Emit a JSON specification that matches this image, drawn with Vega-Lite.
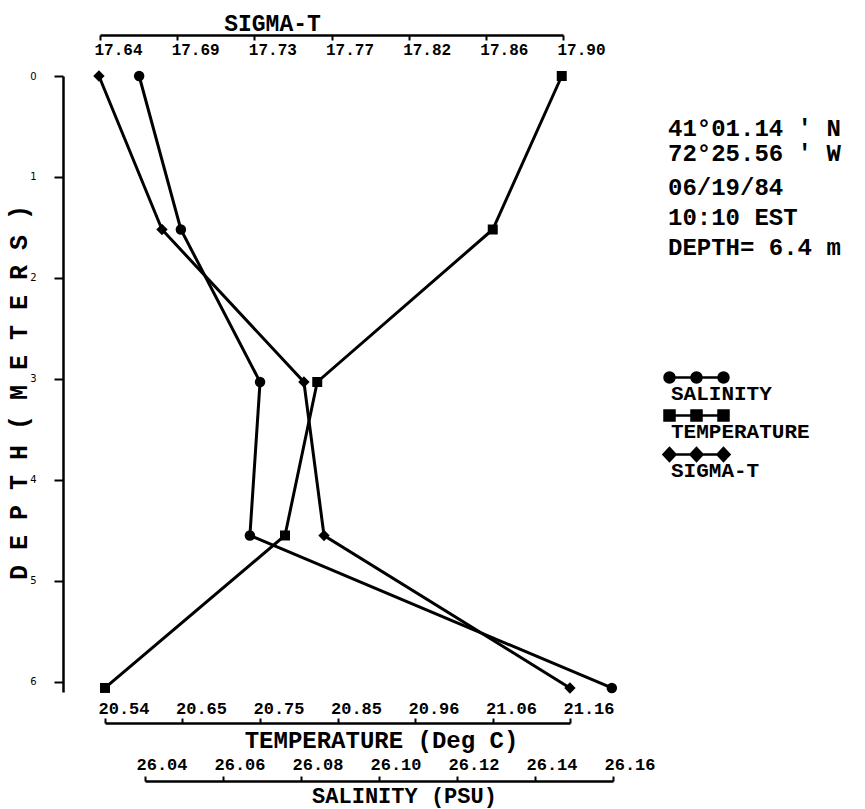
{
  "$schema": "https://vega.github.io/schema/vega-lite/v6.json",
  "width": 802,
  "height": 688,
  "autosize": {"type": "none"},
  "padding": {"left": 63, "top": 35, "right": 0, "bottom": 86},
  "background": "white",
  "config": {
    "view": {"stroke": null},
    "font": "Liberation Mono",
    "axis": {
      "grid": false,
      "domainColor": "black",
      "tickColor": "black",
      "labelColor": "black",
      "titleColor": "black",
      "domainWidth": 2.5,
      "tickWidth": 2,
      "labelFont": "Liberation Mono",
      "labelFontWeight": "bold",
      "titleFont": "Liberation Mono",
      "titleFontWeight": "bold",
      "labelFlush": false,
      "labelOverlap": false
    }
  },
  "title": {
    "text": ["41°01.14 ′ N", "72°25.56 ′ W"],
    "subtitle": ["06/19/84", "10:10 EST", "DEPTH= 6.4 m"],
    "orient": "top",
    "anchor": "start",
    "frame": "group",
    "offset": -248,
    "dx": 605,
    "fontSize": 24,
    "fontWeight": "bold",
    "lineHeight": 25,
    "font": "Liberation Mono",
    "color": "black",
    "subtitleFont": "Liberation Mono",
    "subtitleFontSize": 24,
    "subtitleFontWeight": "bold",
    "subtitleColor": "black",
    "subtitleLineHeight": 30,
    "subtitlePadding": 10
  },
  "data": {
    "values": [
      {"series": "SALINITY", "depth": 0, "value": 26.0385},
      {"series": "SALINITY", "depth": 1.52, "value": 26.0492},
      {"series": "SALINITY", "depth": 3.03, "value": 26.0695},
      {"series": "SALINITY", "depth": 4.55, "value": 26.0669},
      {"series": "SALINITY", "depth": 6.06, "value": 26.1597},
      {"series": "TEMPERATURE", "depth": 0, "value": 21.149},
      {"series": "TEMPERATURE", "depth": 1.52, "value": 21.057},
      {"series": "TEMPERATURE", "depth": 3.03, "value": 20.823},
      {"series": "TEMPERATURE", "depth": 4.55, "value": 20.78},
      {"series": "TEMPERATURE", "depth": 6.06, "value": 20.54},
      {"series": "SIGMA-T", "depth": 0, "value": 17.6394},
      {"series": "SIGMA-T", "depth": 1.52, "value": 17.6748},
      {"series": "SIGMA-T", "depth": 3.03, "value": 17.7545},
      {"series": "SIGMA-T", "depth": 4.55, "value": 17.7658},
      {"series": "SIGMA-T", "depth": 6.06, "value": 17.9039}
    ]
  },
  "encoding": {
    "y": {
      "field": "depth",
      "type": "quantitative",
      "scale": {"domain": [0, 6.1], "range": [41, 657], "nice": false, "zero": false},
      "axis": {
        "values": [0, 1, 2, 3, 4, 5, 6],
        "title": "D E P T H   ( M E T E R S )",
        "titleFontSize": 25,
        "titleX": -45,
        "titleY": 357,
        "titleAngle": -90,
        "titleAlign": "center",
        "titleBaseline": "middle",
        "labelFont": "DejaVu Sans",
        "labelFontWeight": "normal",
        "labelFontSize": 10,
        "labelPadding": 18,
        "tickSize": 9
      }
    }
  },
  "layer": [
    {
      "transform": [{"filter": "datum.series === 'SIGMA-T'"}],
      "encoding": {
        "x": {
          "field": "value",
          "type": "quantitative",
          "scale": {"domain": [17.64, 17.90], "range": [37, 500], "nice": false, "zero": false},
          "axis": {
            "orient": "top",
            "values": [17.64, 17.683333, 17.726667, 17.77, 17.813333, 17.856667, 17.90],
            "labelExpr": "['17.64','17.69','17.73','17.77','17.82','17.86','17.90'][round((datum.value-17.64)/0.0433333)]",
            "tickSize": -5,
            "labelPadding": -9,
            "labelBaseline": "middle",
            "labelAlign": "left",
            "labelOffset": -6,
            "labelFontSize": 16,
            "title": "SIGMA-T",
            "titleFontSize": 23,
            "titleX": 209,
            "titleY": -12,
            "titleAlign": "center",
            "titleBaseline": "middle"
          }
        }
      },
      "layer": [
        {
          "mark": {"type": "line", "strokeWidth": 3},
          "encoding": {
            "order": {"field": "depth"},
            "color": {
              "field": "series",
              "type": "nominal",
              "scale": {"domain": ["SALINITY", "TEMPERATURE", "SIGMA-T"], "range": ["black", "black", "black"]},
              "legend": {
                "title": null,
                "orient": "none",
                "legendX": 605,
                "legendY": 347,
                "direction": "vertical",
                "labelFont": "Liberation Mono",
                "labelFontSize": 21,
                "labelFontWeight": "bold",
                "labelColor": "black",
                "symbolSize": 400,
                "labelOffset": -20,
                "rowPadding": 1,
                "symbolStrokeWidth": 2.5,
                "symbolStrokeColor": "black",
                "symbolFillColor": "black",
                "symbolType": {"expr": "datum.value === 'SALINITY' ? 'M-1,-1.6L4.4,-1.6M-1.5,-1.6a0.5,0.5 0 1,0 1,0a0.5,0.5 0 1,0 -1,0ZM1.2,-1.6a0.5,0.5 0 1,0 1,0a0.5,0.5 0 1,0 -1,0ZM3.9,-1.6a0.5,0.5 0 1,0 1,0a0.5,0.5 0 1,0 -1,0Z' : datum.value === 'TEMPERATURE' ? 'M-1,-1.6L4.4,-1.6M-1.5,-2.1h1v1h-1ZM1.2,-2.1h1v1h-1ZM3.9,-2.1h1v1h-1Z' : 'M-1,-1.6L4.4,-1.6M-1,-2.25l0.6,0.65l-0.6,0.65l-0.6,-0.65ZM1.7,-2.25l0.6,0.65l-0.6,0.65l-0.6,-0.65ZM4.4,-2.25l0.6,0.65l-0.6,0.65l-0.6,-0.65Z'"}
              }
            }
          }
        },
        {"mark": {"type": "point", "shape": "diamond", "filled": true, "color": "black", "size": 130, "opacity": 1}}
      ]
    },
    {
      "transform": [{"filter": "datum.series === 'TEMPERATURE'"}],
      "encoding": {
        "x": {
          "field": "value",
          "type": "quantitative",
          "scale": {"domain": [20.54, 21.16], "range": [42, 507], "nice": false, "zero": false},
          "axis": {
            "orient": "bottom",
            "values": [20.54, 20.643333, 20.746667, 20.85, 20.953333, 21.056667, 21.16],
            "labelExpr": "['20.54','20.65','20.75','20.85','20.96','21.06','21.16'][round((datum.value-20.54)/0.1033333)]",
            "tickSize": -5,
            "labelPadding": -10,
            "labelBaseline": "middle",
            "labelAlign": "left",
            "labelOffset": -7,
            "labelFontSize": 17,
            "title": "TEMPERATURE (Deg C)",
            "titleFontSize": 24,
            "titleX": 318,
            "titleY": 17,
            "titleAlign": "center",
            "titleBaseline": "middle"
          }
        }
      },
      "layer": [
        {
          "mark": {"type": "line", "strokeWidth": 3},
          "encoding": {
            "order": {"field": "depth"},
            "color": {"field": "series", "type": "nominal"}
          }
        },
        {"mark": {"type": "point", "shape": "square", "filled": true, "color": "black", "size": 100, "opacity": 1}}
      ]
    },
    {
      "transform": [{"filter": "datum.series === 'SALINITY'"}],
      "encoding": {
        "x": {
          "field": "value",
          "type": "quantitative",
          "scale": {"domain": [26.04, 26.16], "range": [82, 550], "nice": false, "zero": false},
          "axis": {
            "orient": "bottom",
            "offset": 58,
            "values": [26.04, 26.06, 26.08, 26.10, 26.12, 26.14, 26.16],
            "format": ".2f",
            "tickSize": -5,
            "labelPadding": -12,
            "labelBaseline": "middle",
            "labelAlign": "left",
            "labelOffset": -9,
            "labelFontSize": 17,
            "title": "SALINITY (PSU)",
            "titleFontSize": 22,
            "titleX": 341,
            "titleY": 14,
            "titleAlign": "center",
            "titleBaseline": "middle"
          }
        }
      },
      "layer": [
        {
          "mark": {"type": "line", "strokeWidth": 3},
          "encoding": {
            "order": {"field": "depth"},
            "color": {"field": "series", "type": "nominal"}
          }
        },
        {"mark": {"type": "point", "shape": "circle", "filled": true, "color": "black", "size": 110, "opacity": 1}}
      ]
    }
  ],
  "resolve": {"scale": {"x": "independent"}}
}
